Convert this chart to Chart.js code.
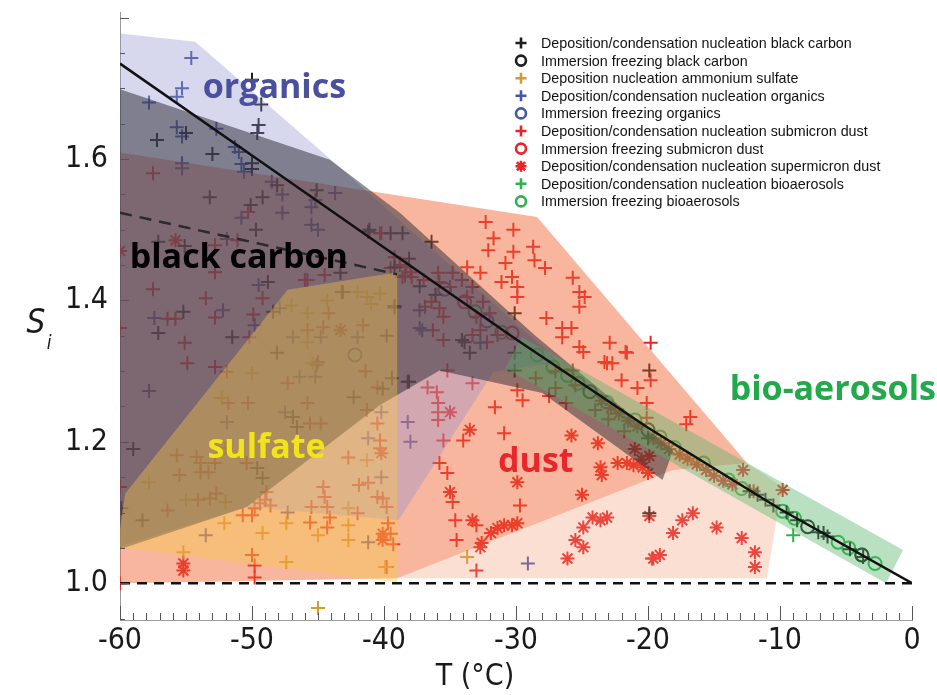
<!DOCTYPE html>
<html>
<head>
<meta charset="utf-8">
<script src="https://cdn.jsdelivr.net/npm/chart.js@4.4.1/dist/chart.umd.min.js"></script>
<style>
  body { margin: 0; background: #fff; }
  canvas { display: block; }
</style>
</head>
<body>
<canvas id="grafico" width="937" height="695"></canvas>
<script>
// ---- datos (T en °C, Si) ----

// linea de saturacion respecto al agua y linea discontinua de black carbon
const aguaT = [-60, -50, -40, -30, -20, -10, 0];
const aguaS = [1.735, 1.605, 1.475, 1.345, 1.22, 1.105, 1.0];
const bcLineaT = [-60, -39];
const bcLineaS = [1.524, 1.437];
const unoT = [-60, 0];
const unoS = [1.0, 1.0];

// regiones sombreadas (poligonos)
const regionOrganics = [[-60.2, 1.778], [-54.3, 1.766], [-43.7, 1.594], [-26.7, 1.313], [-31.7, 1.299], [-38.9, 1.089], [-50.4, 1.108], [-60.2, 1.051]];
const regionBC = [[-60.2, 1.70], [-44.1, 1.599], [-38.8, 1.524], [-28.6, 1.351], [-18.1, 1.188], [-18.9, 1.146], [-28.0, 1.269], [-35.8, 1.301], [-40.3, 1.252], [-50.4, 1.108], [-60.2, 1.047]];
const regionSulfate = [[-59.6, 1.127], [-47.3, 1.415], [-39.0, 1.44], [-39.0, 1.001], [-60.2, 1.051]];
const regionDust = [[-60.2, 1.61], [-28.4, 1.518], [-12.5, 1.17], [-18.1, 1.16], [-39.0, 1.007], [-60.2, 1.0]];
const regionDustBaja = [[-39.0, 1.007], [-11.0, 1.007], [-9.85, 1.136], [-12.5, 1.17], [-18.1, 1.16]];
const regionBio = [[-29.55, 1.348], [-0.68, 1.047], [-1.97, 1.0], [-30.8, 1.304]];

// series de puntos
const bcDep = [[-50.0, 1.712], [-49.3, 1.677], [-49.5, 1.648], [-49.6, 1.637], [-55.0, 1.637], [-57.2, 1.627], [-53.0, 1.607], [-50.0, 1.594], [-50.0, 1.586], [-48.1, 1.563], [-45.1, 1.556], [-49.2, 1.546], [-53.2, 1.546], [-50.1, 1.535], [-49.7, 1.50], [-41.1, 1.50], [-39.5, 1.495], [-57.1, 1.483], [-55.1, 1.477],
  [-48.8, 1.426], [-55.2, 1.384], [-57.1, 1.354], [-51.5, 1.348], [-48.4, 1.384], [-43.1, 1.412], [-39.8, 1.35], [-39.2, 1.39], [-48.1, 1.326], [-39.4, 1.29], [-38.2, 1.285], [-42.3, 1.263], [-46.9, 1.235], [-46.6, 1.221], [-40.1, 1.275], [-59.0, 1.19], [-49.6, 1.163], [-49.2, 1.149], [-59.9, 1.106], [-58.3, 1.089],
  [-38.6, 1.495], [-36.4, 1.483], [-38.1, 1.459], [-37.3, 1.42], [-36.1, 1.408], [-39.2, 1.392], [-30.1, 1.382], [-33.9, 1.341], [-33.5, 1.326], [-30.1, 1.326], [-30.1, 1.301], [-38.1, 1.285], [-19.9, 1.301], [-19.9, 1.099], [-43.3, 1.439], [-39.2, 1.447], [-43.2, 1.412], [-41.2, 1.497], [-34.1, 1.344],
  [-20.0, 1.205], [-12.3, 1.13], [-11.7, 1.125], [-11.1, 1.118], [-10.5, 1.11], [-9.5, 1.10], [-8.7, 1.089], [-7.1, 1.072], [-6.7, 1.071], [-6.4, 1.066], [-4.7, 1.048], [-3.7, 1.037]];
const bcImm = [[-24.4, 1.271], [-20.0, 1.217], [-7.9, 1.08], [-3.8, 1.04]];
const sulDep = [[-47.0, 1.393], [-45.8, 1.382], [-45.8, 1.341], [-42.0, 1.412], [-41.3, 1.405], [-44.3, 1.40], [-50.0, 1.297], [-52.3, 1.262], [-52.0, 1.191], [-57.8, 1.143], [-55.0, 1.118], [-52.0, 1.115], [-52.1, 1.085], [-55.2, 1.044], [-49.2, 1.071], [-47.4, 1.085], [-47.4, 1.03], [-42.7, 1.082], [-42.7, 1.106], [-42.7, 1.061], [-41.3, 1.174], [-45.0, 1.068], [-39.9, 1.023], [-45.4, 1.311], [-45.0, 0.965], [-33.7, 1.037], [-40.3, 1.41], [-41.0, 1.395]];
const orgDep = [[-54.6, 1.743], [-55.3, 1.70], [-55.7, 1.688], [-57.8, 1.68], [-55.7, 1.645], [-55.3, 1.632], [-52.7, 1.643], [-51.3, 1.617], [-51.0, 1.61], [-50.8, 1.593], [-55.3, 1.594], [-55.3, 1.587], [-50.6, 1.582], [-48.5, 1.568], [-47.7, 1.55], [-47.7, 1.524], [-43.7, 1.552], [-45.5, 1.532], [-45.2, 1.542], [-45.5, 1.507], [-45.0, 1.50], [-50.8, 1.517], [-51.9, 1.487],
  [-49.5, 1.422], [-52.2, 1.386], [-57.4, 1.375], [-49.8, 1.365], [-47.9, 1.389], [-46.9, 1.348], [-44.8, 1.348], [-42.0, 1.348], [-45.1, 1.309], [-45.2, 1.292], [-46.4, 1.292], [-57.8, 1.272], [-47.5, 1.242], [-51.9, 1.228], [-40.2, 1.242], [-41.2, 1.205], [-38.2, 1.228], [-38.0, 1.20], [-40.2, 1.15], [-47.3, 1.10], [-53.5, 1.068], [-41.2, 1.058],
  [-37.3, 1.386], [-37.3, 1.361], [-32.7, 1.34], [-29.1, 1.028], [-37.1, 1.358]];
const orgImm = [[-42.2, 1.323], [-35.4, 1.416], [-32.2, 1.371]];
const subDep = [[-57.5, 1.58], [-50.3, 1.525], [-40.2, 1.495], [-60.0, 1.0],
  [-52.8, 1.478], [-51.1, 1.485], [-52.8, 1.44], [-57.5, 1.416], [-53.5, 1.403], [-56.4, 1.374], [-55.8, 1.374], [-52.8, 1.376], [-55.1, 1.34], [-54.9, 1.311], [-52.8, 1.306], [-49.2, 1.403], [-49.9, 1.38], [-50.2, 1.348], [-45.8, 1.429], [-44.5, 1.436], [-60.0, 1.361], [-60.0, 1.136], [-39.5, 1.446], [-38.8, 1.45], [-38.4, 1.435], [-38.0, 1.44],
  [-51.9, 1.299], [-50.3, 1.255], [-51.8, 1.255], [-55.7, 1.181], [-54.2, 1.179], [-53.9, 1.17], [-52.8, 1.17], [-55.5, 1.153], [-53.9, 1.157], [-53.3, 1.157], [-54.1, 1.118], [-56.4, 1.103], [-53.2, 1.12], [-52.7, 1.127], [-50.4, 1.17], [-50.7, 1.096], [-49.8, 1.106], [-49.4, 1.113], [-48.9, 1.129], [-50.0, 1.096], [-49.0, 1.118], [-48.6, 1.11],
  [-47.3, 1.283], [-45.8, 1.255], [-45.6, 1.226], [-44.8, 1.226], [-45.0, 1.313], [-45.8, 1.358], [-44.6, 1.362], [-44.2, 1.382], [-41.6, 1.365], [-41.4, 1.30], [-40.5, 1.277], [-41.3, 1.245], [-40.5, 1.226], [-40.3, 1.202], [-40.3, 1.191], [-42.7, 1.178], [-41.9, 1.139], [-41.2, 1.142], [-40.5, 1.122], [-40.1, 1.12], [-39.8, 1.108],
  [-44.6, 1.136], [-44.5, 1.122], [-44.3, 1.108], [-44.1, 1.093], [-45.5, 1.108], [-45.6, 1.086], [-44.3, 1.079], [-42.0, 1.099], [-50.0, 1.04], [-49.8, 1.025], [-49.8, 1.008], [-39.7, 1.085], [-39.5, 1.07], [-39.3, 1.055], [-39.8, 1.023],
  [-39.2, 1.461], [-38.3, 1.447], [-37.9, 1.433], [-38.6, 1.433], [-37.0, 1.429], [-35.9, 1.439], [-35.8, 1.426], [-34.8, 1.439], [-34.1, 1.429], [-35.0, 1.419], [-33.7, 1.447], [-33.3, 1.419], [-32.7, 1.439], [-36.4, 1.398], [-36.9, 1.391], [-35.8, 1.389], [-35.5, 1.377], [-33.7, 1.405], [-32.5, 1.398], [-32.0, 1.382], [-33.0, 1.377], [-32.7, 1.358], [-33.3, 1.351], [-32.2, 1.341], [-31.4, 1.351], [-35.5, 1.344], [-36.3, 1.358], [-46.0, 1.429], [-40.3, 1.495],
  [-32.3, 1.511], [-31.7, 1.488], [-32.1, 1.471], [-30.2, 1.50], [-30.2, 1.469], [-30.8, 1.453], [-28.7, 1.476], [-28.6, 1.457], [-27.8, 1.446], [-30.3, 1.433], [-29.9, 1.419], [-29.9, 1.405], [-31.1, 1.426], [-25.7, 1.432], [-25.2, 1.412], [-24.8, 1.405], [-25.2, 1.391], [-27.7, 1.375], [-26.5, 1.361], [-25.8, 1.361], [-25.2, 1.334], [-26.5, 1.348],
  [-22.9, 1.34], [-23.1, 1.311], [-22.7, 1.311], [-21.6, 1.326], [-22.0, 1.287], [-19.8, 1.34], [-19.8, 1.287], [-20.8, 1.276], [-20.1, 1.255], [-27.0, 1.276], [-25.7, 1.301], [-24.9, 1.327], [-23.3, 1.313], [-21.7, 1.327], [-16.8, 1.235], [-17.1, 1.225], [-20.1, 1.234],
  [-35.2, 1.301], [-36.7, 1.277], [-36.0, 1.27], [-35.9, 1.255], [-35.9, 1.242], [-35.9, 1.231], [-35.5, 1.202], [-33.3, 1.283], [-31.6, 1.249], [-30.9, 1.212], [-29.9, 1.273], [-29.5, 1.259], [-35.8, 1.17], [-35.2, 1.156], [-34.8, 1.115], [-34.6, 1.089], [-34.5, 1.061], [-33.0, 1.018], [-29.7, 1.11], [-33.0, 1.082], [-34.0, 1.202], [-19.7, 1.035],
  [-28.5, 1.29], [-27.5, 1.265], [-27.0, 1.30], [-26.2, 1.255], [-25.5, 1.28], [-24.0, 1.245], [-23.0, 1.232], [-21.8, 1.215]];
const subImm = [[-33.9, 1.398], [-30.3, 1.354]];
const supDep = [[-55.8, 1.485], [-60.0, 1.47], [-55.2, 1.028], [-55.2, 1.018], [-43.3, 1.358], [-40.2, 1.184], [-40.1, 1.07], [-40.1, 1.061], [-35.0, 1.242], [-33.5, 1.217], [-29.9, 1.143], [-35.0, 1.129], [-33.3, 1.089], [-32.7, 1.051], [-31.9, 1.071], [-31.4, 1.078], [-30.9, 1.082], [-30.3, 1.082], [-29.9, 1.085], [-32.6, 1.057],
  [-25.8, 1.209], [-23.8, 1.198], [-25.0, 1.125], [-23.6, 1.164], [-23.5, 1.153], [-22.3, 1.17], [-21.6, 1.17], [-21.1, 1.167], [-20.4, 1.164], [-20.0, 1.156], [-24.2, 1.093], [-24.9, 1.079], [-25.5, 1.061], [-26.1, 1.035], [-24.9, 1.051], [-23.1, 1.093], [-23.6, 1.089], [-18.1, 1.071], [-19.1, 1.04], [-19.6, 1.035], [-17.4, 1.089], [-16.6, 1.099], [-14.8, 1.079], [-12.9, 1.064], [-11.9, 1.044], [-11.9, 1.023], [-19.9, 1.095],
  [-23.5, 1.258], [-22.8, 1.248], [-22.2, 1.24], [-21.5, 1.23], [-20.8, 1.222], [-19.6, 1.205], [-19.0, 1.198], [-18.4, 1.19], [-17.6, 1.182], [-17.0, 1.176], [-16.3, 1.168], [-15.6, 1.16], [-15.0, 1.152], [-14.3, 1.145], [-13.6, 1.14], [-12.8, 1.16], [-12.0, 1.13], [-9.8, 1.132], [-21.0, 1.19], [-19.9, 1.18], [-20.5, 1.175]];
const bioDep = [[-9.0, 1.068]];
const bioImm = [[-33.1, 1.384], [-31.1, 1.355], [-28.4, 1.323], [-27.2, 1.306], [-26.1, 1.294], [-25.3, 1.283], [-23.1, 1.256], [-21.0, 1.231], [-19.1, 1.207], [-18.0, 1.192], [-15.8, 1.17], [-13.9, 1.146], [-12.9, 1.134], [-9.8, 1.102], [-8.9, 1.092], [-5.6, 1.058], [-4.8, 1.05], [-3.8, 1.04], [-2.8, 1.028]];

// ticks y textos
const ticksX = [-60, -50, -40, -30, -20, -10, 0];
const ticksY = [1.0, 1.2, 1.4, 1.6];
const leyenda = [
  'Deposition/condensation nucleation black carbon',
  'Immersion freezing black carbon',
  'Deposition nucleation ammonium sulfate',
  'Deposition/condensation nucleation organics',
  'Immersion freezing organics',
  'Deposition/condensation nucleation submicron dust',
  'Immersion freezing submicron dust',
  'Deposition/condensation nucleation supermicron dust',
  'Deposition/condensation nucleation bioaerosols',
  'Immersion freezing bioaerosols'
];
const etiquetas = ['organics', 'black carbon', 'sulfate', 'dust', 'bio-aerosols'];
const etiquetasT = [-48.3, -51.0, -48.9, -28.5, -6.0];
const etiquetasS = [1.70, 1.46, 1.191, 1.171, 1.273];

// ---- estilos ----
const colores = {
  negro: '#1e1e1e', sulfato: '#d49c2c', organico: '#4757a8', polvo: '#e8242a', bio: '#2db34b'
};
const coloresEtiquetas = ['#4a4f9e', '#000000', '#f2e41a', '#e8262b', '#22a94c'];
const fuenteEjes = '"Liberation Sans Narrow", "DejaVu Sans Condensed", sans-serif';

const aXY = (pares) => pares.map(p => ({ x: p[0], y: p[1] }));
const zipXY = (xs, ys) => xs.map((v, i) => ({ x: v, y: ys[i] }));

function region(datos, color, orden) {
  return {
    data: aXY(datos.concat([datos[0]])),
    backgroundColor: color,
    borderColor: 'rgba(0,0,0,0)',
    borderWidth: 1,
    pointRadius: 0,
    fill: 'shape',
    tension: 0,
    order: orden
  };
}

function puntos(datos, color, estilo) {
  return {
    data: aXY(datos),
    showLine: false,
    pointStyle: estilo,
    pointRadius: estilo === 'circle' ? 6.5 : 7,
    pointBorderWidth: 2,
    pointBorderColor: color,
    pointBackgroundColor: 'rgba(0,0,0,0)',
    borderColor: color,
    backgroundColor: 'rgba(0,0,0,0)',
    order: 10
  };
}

// marcadores de la leyenda
const marcasLeyenda = [
  [colores.negro, 'cross'], [colores.negro, 'circle'], [colores.sulfato, 'cross'], [colores.organico, 'cross'],
  [colores.organico, 'circle'], [colores.polvo, 'cross'], [colores.polvo, 'circle'], [colores.polvo, 'star'],
  [colores.bio, 'cross'], [colores.bio, 'circle']
];

function dibujarMarca(ctx, tipo, color, x, y, r) {
  ctx.save();
  ctx.strokeStyle = color;
  ctx.lineWidth = 2.6;
  ctx.beginPath();
  if (tipo === 'circle') {
    ctx.arc(x, y, r, 0, Math.PI * 2);
  } else {
    ctx.moveTo(x - r, y); ctx.lineTo(x + r, y);
    ctx.moveTo(x, y - r); ctx.lineTo(x, y + r);
    if (tipo === 'star') {
      const d = r * 0.75;
      ctx.moveTo(x - d, y - d); ctx.lineTo(x + d, y + d);
      ctx.moveTo(x - d, y + d); ctx.lineTo(x + d, y - d);
    }
  }
  ctx.stroke();
  ctx.restore();
}

const decoracion = {
  id: 'decoracion',
  afterDatasetsDraw(chart) {
    const { ctx, scales: { x, y } } = chart;
    ctx.save();
    ctx.textAlign = 'center';
    ctx.textBaseline = 'middle';
    ctx.font = 'bold 34px "Open Sans", "Noto Sans", sans-serif';
    etiquetas.forEach((txt, i) => {
      ctx.fillStyle = coloresEtiquetas[i];
      ctx.fillText(txt, x.getPixelForValue(etiquetasT[i]), y.getPixelForValue(etiquetasS[i]));
    });
    ctx.restore();
  },
  afterDraw(chart) {
    const { ctx, scales: { x, y }, chartArea } = chart;
    ctx.save();
    // ticks hacia dentro
    ctx.strokeStyle = '#555';
    ctx.lineWidth = 1;
    ctx.beginPath();
    for (let t = -60; t <= 0; t++) {
      const px = Math.round(x.getPixelForValue(t)) + 0.5;
      const largo = t % 10 === 0 ? 14 : 7;
      ctx.moveTo(px, chartArea.bottom);
      ctx.lineTo(px, chartArea.bottom - largo);
    }
    for (let k = 19; k <= 36; k++) {
      const v = k * 0.05;
      const py = Math.round(y.getPixelForValue(v)) + 0.5;
      const largo = k % 4 === 0 ? 9 : 5;
      ctx.moveTo(chartArea.left, py);
      ctx.lineTo(chartArea.left + largo, py);
    }
    ctx.stroke();

    // titulos de ejes
    ctx.fillStyle = '#1a1a1a';
    ctx.textAlign = 'center';
    ctx.textBaseline = 'middle';
    ctx.font = '30px ' + fuenteEjes;
    ctx.fillText('T (°C)', 475, 677);
    ctx.font = 'italic 33px ' + fuenteEjes;
    ctx.fillText('S', 36, 324);
    ctx.font = 'italic 19px ' + fuenteEjes;
    ctx.fillText('i', 49, 344);

    // leyenda
    ctx.font = '14.3px "Liberation Sans", Arial, sans-serif';
    ctx.textAlign = 'left';
    ctx.fillStyle = '#111';
    leyenda.forEach((txt, i) => {
      const py = 43 + i * 17.6;
      const [col, tipo] = marcasLeyenda[i];
      dibujarMarca(ctx, tipo, col, 521, py, tipo === 'circle' ? 5 : 5.5);
      ctx.fillText(txt, 541, py + 1);
    });
    ctx.restore();
  }
};

const ctx = document.getElementById('grafico').getContext('2d');

new Chart(ctx, {
  type: 'line',
  data: {
    datasets: [
      // puntos (debajo de las regiones)
      puntos(bcDep, colores.negro, 'cross'),
      puntos(sulDep, colores.sulfato, 'cross'),
      puntos(orgDep, colores.organico, 'cross'),
      puntos(subDep, colores.polvo, 'cross'),
      puntos(supDep, colores.polvo, 'star'),
      puntos(bioDep, colores.bio, 'cross'),
      puntos(bcImm, colores.negro, 'circle'),
      puntos(orgImm, colores.organico, 'circle'),
      puntos(subImm, colores.polvo, 'circle'),
      puntos(bioImm, colores.bio, 'circle'),
      // regiones
      region(regionDustBaja, 'rgba(245,150,110,0.30)', 9),
      region(regionDust, 'rgba(240,95,45,0.46)', 8),
      region(regionOrganics, 'rgba(140,140,205,0.35)', 7),
      region(regionBC, 'rgba(40,40,50,0.50)', 6),
      region(regionSulfate, 'rgba(245,200,70,0.40)', 5),
      region(regionBio, 'rgba(80,180,100,0.40)', 4),
      // lineas
      {
        data: zipXY(aguaT, aguaS), borderColor: '#111', borderWidth: 2.5, pointRadius: 0, fill: false, order: 0
      },
      {
        data: zipXY(bcLineaT, bcLineaS), borderColor: '#2a2a2a', borderWidth: 2.5, borderDash: [12, 8], pointRadius: 0, fill: false, order: 0
      },
      {
        data: zipXY(unoT, unoS), borderColor: '#111', borderWidth: 2.5, borderDash: [10, 7], pointRadius: 0, fill: false, order: 0
      }
    ]
  },
  options: {
    responsive: false,
    animation: false,
    events: [],
    layout: { padding: { left: 0, right: 25, top: 12, bottom: 0 } },
    scales: {
      x: {
        type: 'linear',
        min: -60,
        max: 0,
        afterFit: (escala) => { escala.height = 75; escala.paddingLeft = 0; escala.paddingRight = 0; },
        afterBuildTicks: (escala) => { escala.ticks = ticksX.map(v => ({ value: v })); },
        grid: { display: false, drawTicks: false },
        border: { display: true, color: '#9a9a9a', width: 1 },
        ticks: {
          autoSkip: false, maxRotation: 0, padding: 3, color: '#1a1a1a',
          font: { family: fuenteEjes, size: 30 },
          callback: (v) => String(v)
        }
      },
      y: {
        type: 'linear',
        min: 0.948,
        max: 1.808,
        afterFit: (escala) => { escala.width = 120; escala.paddingTop = 0; escala.paddingBottom = 0; },
        afterBuildTicks: (escala) => { escala.ticks = ticksY.map(v => ({ value: v })); },
        grid: { display: false, drawTicks: false },
        border: { display: true, color: '#9a9a9a', width: 1 },
        ticks: {
          padding: 12, color: '#1a1a1a',
          font: { family: fuenteEjes, size: 30 },
          callback: (v) => Number(v).toFixed(1)
        }
      }
    },
    plugins: {
      legend: { display: false },
      tooltip: { enabled: false }
    }
  },
  plugins: [decoracion]
});
</script>
</body>
</html>
